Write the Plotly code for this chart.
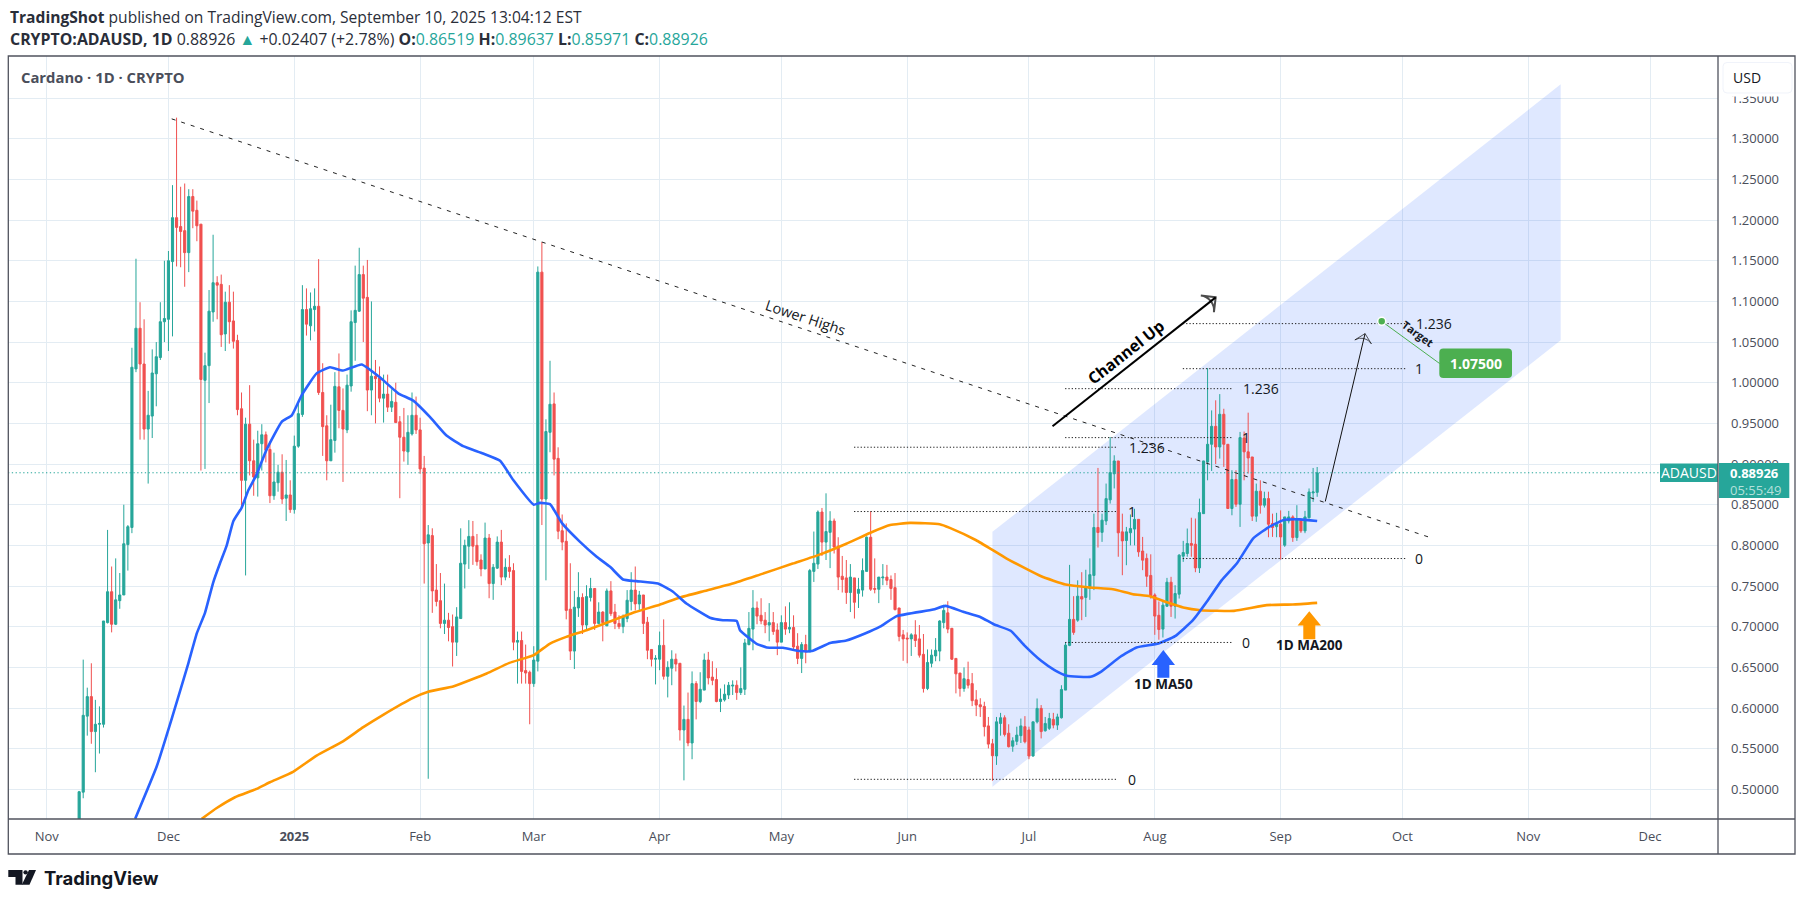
import pandas as pd
import plotly.graph_objects as go

START = pd.Timestamp("2024-11-01")
FIRST_CANDLE_DAY = 8
opens = [
 .440,.4965,.590,.614,.571,.580,.580,.705,.743,.703,.732,.739,.801,.822,1.017,1.067,1.023,.943,.959,1.011,1.031,1.075,
 1.078,1.149,1.203,1.192,1.187,1.16,1.229,1.212,1.195,1.003,1.021,1.087,1.123,1.121,1.06,1.099,1.076,1.052,.968,.88,.949,.904,.883,.925,.936,.918,.861,.877,.89,.858,.862,
 .844,.922,.961,1.09,1.07,1.09,1.094,.988,.947,.904,.929,.995,.966,.942,.996,1.074,1.088,1.133,1.105,.991,1.008,1.006,.981,.986,.97,.976,.952,.933,.915,.937,.96,
 .942,.895,.803,.812,.745,.732,.704,.708,.70,.681,.71,.777,.799,.811,.80,.782,.771,.809,.753,.772,.804,.761,.773,.769,.681,.683,.646,.644,
 .63,.6576,1.136,.857,.939,.974,.907,.818,.805,.7215,.67,.723,.736,.702,.736,.747,.704,.718,.701,.744,.718,.704,.70,.71,.731,.745,.728,.739,.7055,.672,.66,
 .66,.677,.639,.649,.66,.655,.573,.586,.557,.63,.608,.622,.659,.638,.635,.608,.61,.616,.627,.628,.619,.623,.678,.697,.723,.714,.708,.702,.705,.696,
 .681,.705,.697,.699,.676,.661,.678,.669,.768,.777,.841,.804,.816,.83,.799,.762,.76,.742,.76,.741,.745,.768,.81,.747,.746,.76,.761,.758,.748,.723,.69,
 .686,.685,.69,.685,.666,.624,.655,.664,.67,.705,.717,.698,.661,.643,.624,.635,.63,.61,.604,.602,.578,.556,.541,.581,.588,.569,.553,.559,.566,.577,
 .573,.541,.583,.5995,.572,.575,.586,.579,.588,.622,.677,.709,.708,.737,.736,.747,.763,.822,.816,.83,.856,.888,.9038,.8166,.806,.8155,.82,.832,.793,.784,.763,
 .739,.714,.697,.7252,.7547,.7252,.74,.7867,.79,.8023,.8014,.7723,.839,.9026,.9243,.9464,.921,.9612,.9243,.8453,.881,.8506,.932,.915,.9087,.8359,.8666,.8494,.8575,.827,.823,
 .826,.8002,.83,.835,.8096,.8309,.8178,.834,.8645,.86519]
highs = [
 .498,.6595,.625,.655,.610,.602,.707,.819,.774,.784,.766,.850,.825,1.043,1.1525,1.099,1.078,.99,1.041,1.05,1.099,1.15,
 1.162,1.243,1.326,1.241,1.245,1.238,1.238,1.224,1.195,1.037,1.114,1.182,1.131,1.133,1.112,1.12,1.112,1.059,.988,.957,.997,.93,.941,.949,.94,.928,.914,.899,.912,.905,.88,
 .935,.975,1.12,1.116,1.111,1.116,1.152,1.024,.96,.973,1.013,1.036,.993,1.01,1.089,1.144,1.166,1.144,1.151,1.10,1.028,1.02,1.01,1.01,.992,1.0,.959,.969,.96,.988,.983,
 .957,.91,.825,.821,.777,.766,.753,.717,.715,.724,.821,.807,.831,.83,.814,.789,.828,.814,.777,.811,.819,.784,.788,.778,.694,.694,.678,.646,
 .676,1.143,1.173,.955,1.027,.988,.9206,.838,.827,.778,.744,.767,.741,.751,.76,.747,.73,.719,.747,.756,.728,.714,.715,.745,.767,.774,.744,.739,.712,.672,.665,
 .694,.709,.6575,.671,.667,.655,.603,.619,.645,.633,.644,.667,.669,.6575,.649,.624,.629,.632,.634,.634,.65,.685,.718,.745,.731,.735,.718,.729,.718,.704,
 .714,.725,.73,.714,.692,.681,.69,.771,.817,.843,.846,.864,.842,.833,.81,.787,.782,.777,.76,.76,.784,.811,.842,.784,.761,.777,.776,.763,.766,.723,.696,
 .693,.692,.708,.702,.691,.672,.672,.686,.708,.727,.7313,.698,.661,.643,.65,.657,.643,.622,.612,.6077,.589,.562,.589,.594,.591,.58,.564,.577,.587,.59,
 .577,.583,.6117,.6036,.589,.594,.594,.593,.628,.681,.776,.7375,.757,.767,.77,.784,.839,.8952,.839,.876,.9333,.9108,.9038,.839,.8227,.838,.845,.832,.8104,.79,.789,
 .741,.731,.7306,.76,.7613,.751,.7892,.8055,.8207,.834,.833,.8575,.904,1.018,.966,.9784,.986,.968,.9243,.8924,.8924,.9395,.94,.9632,.9087,.876,.88,.866,.866,.839,.84,
 .843,.835,.8424,.837,.8494,.833,.8424,.87,.8952,.89637]
lows = [
 .43,.489,.566,.556,.521,.544,.576,.704,.693,.702,.722,.739,.769,.815,1.013,.93,.93,.876,.932,.971,1.028,1.05,
 1.039,1.057,1.143,1.142,1.118,1.136,1.19,1.174,.892,.894,.975,1.075,1.078,1.044,1.039,1.048,1.042,.96,.848,.763,.886,.861,.86,.892,.902,.852,.856,.866,.851,.83,.84,
 .839,.92,.958,1.058,1.052,1.063,.985,.91,.88,.904,.914,.944,.878,.938,.989,1.027,1.087,1.05,.965,.96,.95,.976,.951,.964,.964,.951,.858,.903,.899,.935,.937,
 .888,.753,.513,.717,.725,.698,.691,.682,.651,.664,.71,.747,.771,.776,.775,.762,.771,.735,.733,.771,.751,.757,.76,.671,.63,.63,.63,.58,
 .626,.645,.825,.757,.9145,.886,.8076,.794,.709,.659,.648,.712,.691,.697,.731,.696,.703,.682,.701,.713,.697,.697,.692,.7055,.72,.72,.72,.691,.66,.651,.629,
 .6465,.635,.613,.628,.645,.56,.511,.553,.537,.586,.606,.622,.629,.628,.607,.595,.608,.611,.616,.61,.616,.616,.677,.671,.703,.703,.692,.682,.69,.665,
 .681,.69,.692,.671,.654,.643,.655,.669,.755,.771,.787,.782,.772,.79,.745,.742,.728,.718,.71,.723,.737,.768,.744,.741,.729,.751,.751,.733,.72,.682,.658,
 .655,.664,.675,.662,.619,.622,.65,.6575,.6575,.698,.692,.659,.618,.614,.62,.624,.6023,.59,.589,.565,.5503,.5105,.53,.566,.565,.5515,.5462,.5544,.557,.5565,
 .537,.54,.581,.5626,.571,.573,.575,.573,.587,.622,.676,.69,.706,.708,.712,.733,.745,.7973,.8043,.825,.8514,.87,.786,.7633,.7756,.80,.80,.786,.7695,.749,.7346,
 .69,.684,.6867,.7244,.712,.71,.7346,.7797,.786,.786,.767,.766,.839,.88,.8915,.90,.9067,.8965,.845,.837,.8473,.8227,.88,.8883,.83,.829,.839,.8465,.81,.8104,.81,
 .7826,.7982,.827,.8043,.8055,.8154,.815,.833,.8535,.85971]
closes = [
 .497,.591,.614,.571,.580,.581,.707,.743,.703,.733,.739,.802,.823,1.019,1.067,1.023,.943,.96,1.012,1.032,1.075,1.079,
 1.150,1.203,1.191,1.186,1.16,1.229,1.211,1.193,1.004,1.021,1.088,1.123,1.12,1.059,1.099,1.075,1.051,.967,.88,.949,.904,.884,.925,.936,.917,.861,.878,.89,.857,.862,.844,
 .922,.962,1.09,1.072,1.091,1.094,.988,.946,.904,.93,.9955,.966,.943,.997,1.075,1.089,1.133,1.104,.991,1.008,1.005,.981,.986,.97,.977,.951,.933,.916,.939,.96,.942,
 .894,.802,.813,.744,.731,.704,.708,.699,.681,.712,.778,.80,.811,.799,.78,.771,.809,.753,.773,.804,.761,.773,.768,.681,.683,.645,.643,.63,
 .659,1.136,.857,.94,.9735,.906,.8174,.804,.72,.67,.724,.736,.702,.737,.747,.704,.718,.705,.744,.716,.704,.70,.712,.7325,.745,.728,.739,.704,.671,.66,.661,
 .677,.639,.65,.66,.654,.573,.586,.557,.63,.608,.623,.659,.637,.634,.608,.611,.617,.628,.628,.619,.624,.68,.698,.723,.713,.707,.702,.705,.694,.681,
 .705,.697,.699,.675,.661,.678,.669,.769,.778,.841,.804,.817,.83,.798,.761,.758,.742,.761,.73,.746,.769,.81,.746,.746,.761,.761,.757,.747,.721,.688,.685,
 .685,.69,.683,.665,.624,.656,.665,.671,.707,.72,.697,.66,.642,.624,.636,.628,.609,.6036,.6015,.577,.5556,.5413,.583,.588,.5675,.5524,.5597,.5667,.578,.5585,
 .541,.583,.5995,.571,.581,.587,.579,.589,.6228,.6773,.709,.693,.7375,.734,.749,.764,.822,.8158,.831,.8575,.8895,.9038,.8154,.8055,.8166,.8207,.832,.792,.7818,.762,.7375,
 .713,.6965,.7265,.7547,.7252,.7408,.788,.7912,.8023,.80,.7723,.8403,.9038,.9243,.9464,.921,.9612,.9243,.8453,.881,.8506,.9325,.915,.9075,.8359,.8666,.8494,.8575,.826,.822,.826,
 .8104,.835,.835,.8096,.8322,.8178,.835,.8657,.8657,.88926]

ma50_day = [21.8,27.1,31,34.9,37,39,41,42.7,44.3,46,48,49.7,51.7,54.2,57.9,60.4,62.8,66.5,69.8,73,77.6,82,86.6,90.3,94.4,98.5,102.6,107.5,111.7,115,120,121.5,124,127,131.4,135.5,138.8,142,145.3,150.6,154.3,157.6,163.4,166.6,170,170.8,174.9,177.4,181.4,185.6,188.5,193,197,201.6,205.3,209.4,218.4,221.4,225.8,230,233.3,237.5,240.8,245,248.3,251.3,257.2,259.7,264.5,268.5,273.9,278,282.4,285.8,289.5,293.2,297.2,300.9,304.6,308.7,313]
ma50_val = [.4637,.528,.59,.655,.692,.717,.754,.778,.799,.83,.846,.868,.887,.918,.952,.96,.9845,1.0115,1.019,1.015,1.0225,1.007,.987,.978,.958,.935,.922,.913,.904,.88,.85,.8522,.8506,.827,.8043,.786,.7736,.758,.756,.753,.743,.7285,.711,.708,.707,.6957,.679,.6745,.674,.67,.67,.68,.683,.6916,.70,.713,.721,.7256,.7183,.712,.703,.695,.6773,.658,.6466,.6396,.6384,.6445,.663,.6744,.6793,.6884,.708,.7306,.7572,.7777,.8084,.8219,.831,.832,.83]
ma200_day = [38.2,41.9,46.4,51.7,55,60.7,66.5,73,78,83,90.3,94,100.3,108.4,114,120,124,128,133,139.6,145,151,156,161.8,169,175.7,183.8,190.4,197,202.8,207.8,212.7,220,222.5,229,236.5,245,251,257,262.7,267.6,271.8,276,280,284.3,292.5,300.6,307,313]
ma200_val = [.4637,.477,.4903,.5005,.5087,.5215,.5415,.559,.5764,.592,.6125,.62,.6268,.6424,.6555,.665,.6793,.6875,.6956,.708,.718,.727,.7358,.7436,.753,.764,.7776,.7886,.802,.8153,.825,.8276,.826,.8215,.8063,.7838,.762,.7519,.7482,.746,.74,.7375,.730,.7236,.7203,.7195,.7265,.7273,.7293]

channel_day = [233, 373, 373, 233]
channel_price = [.8166, 1.367, 1.0522, .5032]
trend_day = [30.8, 340.8]
trend_price = [1.3245, .8097]
level_groups = [
    dict(d0=198.9, d1=263.6, prices=[.5123, .8416, .9207], labels=["0", "1", "1.236"], lab_days=[267.4, 267.4, 271.0]),
    dict(d0=250.9, d1=291.9, prices=[.6806, .9325, .9927], labels=["0", "1", "1.236"], lab_days=[295.4, 295.4, 299.1]),
    dict(d0=279.9, d1=335.0, prices=[.7838, 1.0173, 1.0727], labels=["0", "1", "1.236"], lab_days=[338.0, 338.0, 341.8]),
]
channel_arrow_day = [247.8, 288.0]
channel_arrow_price = [.9465, 1.105]
proj_arrow_day = [315.0, 324.8]
proj_arrow_price = [.854, 1.0604]
blue_arrow_day = [275.1, 277.98, 276.58, 276.58, 273.62, 273.62, 272.22]
blue_arrow_price = [.6712, .6528, .6528, .6371, .6371, .6528, .6528]
orange_arrow_day = [311.06, 313.94, 312.54, 312.54, 309.58, 309.58, 308.18]
orange_arrow_price = [.7191, .7015, .7015, .6847, .6847, .7015, .7015]
target_day = [328.9, 343.2]
target_price = [1.0755, 1.0235]
last_price = 0.88926
price_ticks = [.50,.55,.60,.65,.70,.75,.80,.85,.90,.95,1.00,1.05,1.10,1.15,1.20,1.25,1.30,1.35]
month_ticks = ["2024-11-01","2024-12-01","2025-01-01","2025-02-01","2025-03-01","2025-04-01","2025-05-01","2025-06-01","2025-07-01","2025-08-01","2025-09-01","2025-10-01","2025-11-01","2025-12-01"]
month_labels = ["Nov","Dec","<b>2025</b>","Feb","Mar","Apr","May","Jun","Jul","Aug","Sep","Oct","Nov","Dec"]

GREEN, RED, BLUE, ORANGE = "#26a69a", "#f0504f", "#2962ff", "#ff9800"
INK, GREY, FRAME, GRID = "#131722", "#4a4e5a", "#50535e", "#e3ecf3"
FONT = "Open Sans, sans-serif"
W, H = 1804, 901
PL, PR, PT, PB = 8, 1718, 55.5, 819


def day(d):
    return START + pd.Timedelta(days=d)


def px(x):
    return (x - PL) / (PR - PL)


def py(y):
    return (PB - y) / (PB - PT)


assert len(opens) == len(highs) == len(lows) == len(closes) == 306
candle_dates = [day(FIRST_CANDLE_DAY + i) for i in range(len(opens))]

fig = go.Figure()
fig.add_trace(go.Candlestick(
    x=candle_dates, open=opens, high=highs, low=lows, close=closes,
    increasing=dict(line=dict(color=GREEN, width=1), fillcolor=GREEN),
    decreasing=dict(line=dict(color=RED, width=1), fillcolor=RED),
    whiskerwidth=0, hoverinfo="skip", showlegend=False))
fig.add_trace(go.Scatter(x=[day(d) for d in ma200_day], y=ma200_val, mode="lines",
                         line=dict(color=ORANGE, width=2.6, shape="spline", smoothing=0.4), hoverinfo="skip"))
fig.add_trace(go.Scatter(x=[day(d) for d in ma50_day], y=ma50_val, mode="lines",
                         line=dict(color=BLUE, width=2.6, shape="spline", smoothing=0.4), hoverinfo="skip"))
fig.add_trace(go.Scatter(x=[day(d) for d in trend_day], y=trend_price, mode="lines",
                         line=dict(color="#222222", width=1, dash="4px,6px"), hoverinfo="skip"))
lx, ly = [], []
for g in level_groups:
    for p in g["prices"]:
        lx += [day(g["d0"]), day(g["d1"]), None]
        ly += [p, p, None]
fig.add_trace(go.Scatter(x=lx, y=ly, mode="lines", line=dict(color="#222222", width=1, dash="1.3px,2px"), hoverinfo="skip"))
fig.add_trace(go.Scatter(x=[day(d) for d in channel_arrow_day], y=channel_arrow_price, mode="lines+markers",
                         line=dict(color="#000000", width=2),
                         marker=dict(symbol="arrow-wide-open", angleref="previous", size=[0, 15], color="#000000",
                                     line=dict(color="#000000", width=2)), hoverinfo="skip"))
fig.add_trace(go.Scatter(x=[day(d) for d in proj_arrow_day], y=proj_arrow_price, mode="lines+markers",
                         line=dict(color="#111111", width=1),
                         marker=dict(symbol="arrow-wide-open", angleref="previous", size=[0, 12], color="#111111",
                                     line=dict(color="#111111", width=1)), hoverinfo="skip"))
fig.add_trace(go.Scatter(x=[day(d) for d in blue_arrow_day], y=blue_arrow_price, mode="lines", fill="toself",
                         fillcolor=BLUE, line=dict(width=0, color=BLUE), hoverinfo="skip"))
fig.add_trace(go.Scatter(x=[day(d) for d in orange_arrow_day], y=orange_arrow_price, mode="lines", fill="toself",
                         fillcolor=ORANGE, line=dict(width=0, color=ORANGE), hoverinfo="skip"))
fig.add_trace(go.Scatter(x=[day(d) for d in target_day], y=target_price, mode="lines",
                         line=dict(color="#4caf50", width=1), hoverinfo="skip"))
fig.add_trace(go.Scatter(x=[day(target_day[0])], y=[target_price[0]], mode="markers",
                         marker=dict(color="#4caf50", size=8, line=dict(color="#ffffff", width=1.5)), hoverinfo="skip"))

shapes = []
cx = [day(d).strftime("%Y-%m-%d_%H:%M") for d in channel_day]
path = "M " + " L ".join(f"{a},{b}" for a, b in zip(cx, channel_price)) + " Z"
shapes.append(dict(type="path", path=path, xref="x", yref="y", layer="between",
                   fillcolor=BLUE, opacity=0.15, line=dict(width=0)))
shapes.append(dict(type="line", xref="paper", yref="y", x0=0, x1=1, y0=last_price, y1=last_price,
                   line=dict(color=GREEN, width=1, dash="1.3px,2.5px"), layer="above"))


def rect(x0, y0, x1, y1, fill=None, line=None, lw=1):
    d = dict(type="rect", xref="paper", yref="paper", x0=px(x0), x1=px(x1), y0=py(y1), y1=py(y0), layer="above",
             line=dict(width=lw if line else 0, color=line or "rgba(0,0,0,0)"))
    if fill:
        d["fillcolor"] = fill
    return d


def rpath(x0, y0, x1, y1, r, fill, line=None):
    def P(a, b):
        return f"{px(a)},{py(b)}"
    p = (f"M {P(x0+r,y0)} L {P(x1-r,y0)} Q {P(x1,y0)} {P(x1,y0+r)} L {P(x1,y1-r)} Q {P(x1,y1)} {P(x1-r,y1)} "
         f"L {P(x0+r,y1)} Q {P(x0,y1)} {P(x0,y1-r)} L {P(x0,y0+r)} Q {P(x0,y0)} {P(x0+r,y0)} Z")
    return dict(type="path", path=p, xref="paper", yref="paper", fillcolor=fill, layer="above",
                line=dict(width=1 if line else 0, color=line or fill))


# price column overlays
shapes.append(rect(1719, 56.5, 1794.5, 96, fill="#ffffff"))
shapes.append(rpath(1723, 62, 1792, 92.5, 4, "#ffffff", "#f0f3fa"))
shapes.append(rect(1660, 463.3, 1718, 481.7, fill=GREEN))
shapes.append(rect(1719, 462.7, 1789.3, 497.7, fill=GREEN))
shapes.append(rpath(1439.3, 348.3, 1512, 377.7, 4, "#4caf50"))
# frame
shapes.append(rect(8.3, 55.5, 1795, 854, line=FRAME, lw=1.3))
shapes.append(dict(type="line", xref="paper", yref="paper", x0=px(1718), x1=px(1718), y0=py(55.5), y1=py(854),
                   layer="above", line=dict(color=FRAME, width=1.3)))
shapes.append(dict(type="line", xref="paper", yref="paper", x0=px(8), x1=px(1795), y0=py(819), y1=py(819),
                   layer="above", line=dict(color=FRAME, width=1.3)))
# logo
shapes.append(dict(type="path", xref="paper", yref="paper", fillcolor="#131722", layer="above", line=dict(width=0),
                   path=" ".join([f"M {px(8.3)},{py(870)}", f"L {px(22.5)},{py(870)}", f"L {px(22.5)},{py(884.7)}",
                                  f"L {px(15.5)},{py(884.7)}", f"L {px(15.5)},{py(877)}", f"L {px(8.3)},{py(877)} Z"])))
shapes.append(dict(type="path", xref="paper", yref="paper", fillcolor="#131722", layer="above", line=dict(width=0),
                   path=" ".join([f"M {px(29)},{py(870)}", f"L {px(36)},{py(870)}", f"L {px(29.5)},{py(884.7)}",
                                  f"L {px(21.8)},{py(884.7)} Z"])))
shapes.append(dict(type="circle", xref="paper", yref="paper", x0=px(23.4), x1=px(27.8), y0=py(874.6), y1=py(870.2),
                   fillcolor="#131722", layer="above", line=dict(width=0)))

ann = []


def note(x, y, text, size=14, color=INK, angle=0, xanchor="center", paper=True, family=FONT):
    a = dict(x=x, y=y, text=text, showarrow=False, textangle=angle, xanchor=xanchor, yanchor="middle",
             font=dict(size=size, color=color, family=family))
    a["xref"] = a["yref"] = "paper" if paper else "x"
    if not paper:
        a["yref"] = "y"
    ann.append(a)


teal = lambda s: f'<span style="color:{GREEN}">{s}</span>'
note(px(8), py(16.5), "<b>TradingShot</b> published on TradingView.com, September 10, 2025 13:04:12 EST", 15.6, "#2a2e39", xanchor="left")
note(px(8), py(38.5),
     f"<b>CRYPTO:ADAUSD, 1D</b> 0.88926 {teal('▲')} +0.02407 (+2.78%) <b>O:</b>{teal('0.86519')} <b>H:</b>{teal('0.89637')} "
     f"<b>L:</b>{teal('0.85971')} <b>C:</b>{teal('0.88926')}", 15.9, "#2a2e39", xanchor="left")
note(px(19), py(76.7), "<b>Cardano · 1D · CRYPTO</b>", 14.8, GREY, xanchor="left")
note(px(1747), py(76.7), "USD", 14)
note(px(1689), py(472.5), "ADAUSD", 14, "#ffffff")
note(px(1754), py(473), "<b>0.88926</b>", 13, "#ffffff")
note(px(1756), py(489.3), "05:55:49", 13, "#b4e0db")
note(px(1475.6), py(363), "<b>1.07500</b>", 14, "#ffffff")
note(px(42), py(878), "<b>TradingView</b>", 18.5, "#131722", xanchor="left", family="Inter, sans-serif")
for g in level_groups:
    for p, lab, d in zip(g["prices"], g["labels"], g["lab_days"]):
        note(day(d), p, lab, 14, INK, paper=False)
note(day(187), 1.0808, "Lower Highs", 14.5, INK, angle=18.4, paper=False)
note(day(265.9), 1.0375, "<b>Channel Up</b>", 16, "#000000", angle=-38.3, paper=False)
note(day(337.8), 1.0600, "<b>Target</b>", 11, INK, angle=36, paper=False)
note(day(275.1), .6292, "<b>1D MA50</b>", 13.5, INK, paper=False)
note(day(311.06), .6770, "<b>1D MA200</b>", 13.5, INK, paper=False)

fig.update_layout(
    width=W, height=H, autosize=False, showlegend=False, dragmode=False, hovermode=False,
    paper_bgcolor="#ffffff", plot_bgcolor="#ffffff", boxgap=0.25,
    margin=dict(l=PL, r=W - PR, t=PT, b=H - PB, pad=0),
    shapes=shapes, annotations=ann,
    font=dict(family=FONT, color=GREY),
    xaxis=dict(type="date", range=[day(-9.53), day(411.75)], rangeslider=dict(visible=False),
               tickmode="array", tickvals=month_ticks, ticktext=month_labels, ticks="", showline=False,
               showgrid=True, gridcolor=GRID, gridwidth=1, zeroline=False, tickfont=dict(size=13, color=GREY),
               ticklabelstandoff=8),
    yaxis=dict(side="right", range=[.4635, 1.4018], tickmode="array", tickvals=price_ticks,
               ticktext=[f"{v:.5f}" for v in price_ticks], ticks="", showline=False, showgrid=True, gridcolor=GRID,
               gridwidth=1, zeroline=False, tickfont=dict(size=13, color=GREY), ticklabelstandoff=12),
)

fig.write_html("out.html", config=dict(displayModeBar=False, staticPlot=True),
               post_script="document.body.style.margin='0';")
